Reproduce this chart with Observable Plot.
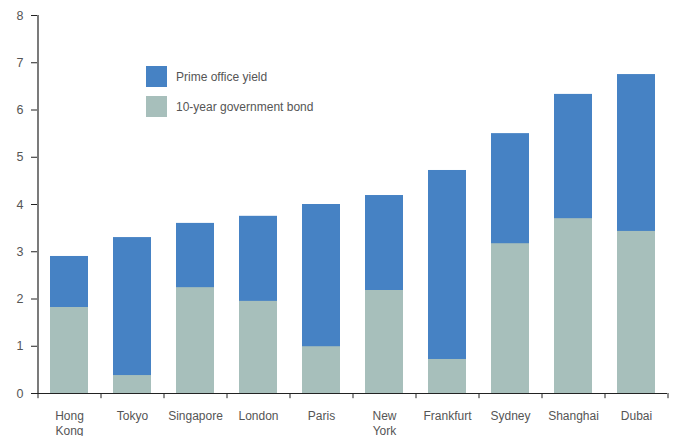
<!DOCTYPE html>
<html>
<head>
<meta charset="utf-8">
<script src="https://cdn.jsdelivr.net/npm/d3@7"></script>
<script src="https://cdn.jsdelivr.net/npm/@observablehq/plot@0.6"></script>
<style>
  body { margin: 0; background: #fff; font-family: "Liberation Sans", Arial, sans-serif; }
  #wrap { position: relative; width: 683px; height: 436px; overflow: hidden; }
  .legend { position: absolute; left: 146px; top: 66px; font-size: 12px; color: #555; }
  .legend div { display: flex; align-items: center; height: 21px; margin-bottom: 9px; }
  .legend span.sw { display: inline-block; width: 21px; height: 21px; margin-right: 9px; }
</style>
</head>
<body>
<div id="wrap"></div>
<script>
const cities = ["Hong Kong", "Tokyo", "Singapore", "London", "Paris", "New York", "Frankfurt", "Sydney", "Shanghai", "Dubai"];
const primeYield = [2.90, 3.30, 3.60, 3.75, 4.00, 4.19, 4.72, 5.50, 6.33, 6.75];
const bondYield = [1.82, 0.38, 2.24, 1.95, 0.99, 2.18, 0.72, 3.17, 3.70, 3.43];
const yTicks = [0, 1, 2, 3, 4, 5, 6, 7, 8];
const tickLabels = {"Hong Kong": "Hong\nKong", "New York": "New\nYork"};
const seriesNames = ["Prime office yield", "10-year government bond"];
const colors = ["#4682c4", "#a7bfbb"];

const rows = cities.map((c, i) => ({city: c, prime: primeYield[i], bond: bondYield[i]}));
const half = 31.5;
const textColor = "#555";

const plot = Plot.plot({
  width: 683,
  height: 436,
  marginLeft: 37,
  marginRight: 16,
  marginTop: 15,
  marginBottom: 43,
  style: {fontFamily: "'Liberation Sans', Arial, sans-serif", fontSize: "12px", color: textColor, background: "#fff"},
  x: {domain: cities, paddingInner: 0.4, paddingOuter: 0.2, label: null, axis: null},
  y: {domain: [0, 8], label: null, axis: null},
  marks: [
    Plot.barY(rows, {x: "city", y: "prime", fill: colors[0]}),
    Plot.barY(rows, {x: "city", y: "bond", fill: colors[1]}),
    Plot.axisY({ticks: yTicks, tickSize: 6, tickPadding: 8, stroke: "#222", fill: textColor, fontSize: 12.5, label: null}),
    Plot.axisX({tickSize: 0, tickPadding: 16, fill: textColor, lineHeight: 1.25, fontSize: 12, tickFormat: d => tickLabels[d] ?? d, label: null}),
    Plot.ruleY([0], {stroke: "#222", strokeWidth: 1.2}),
    Plot.ruleX([cities[0]], {y1: 0, y2: 8, dx: -half, stroke: "#222", strokeWidth: 1.2}),
    Plot.ruleX(cities, {y1: 0, y2: -0.11, dx: -half, stroke: "#222"}),
    Plot.ruleX([cities[cities.length - 1]], {y1: 0, y2: -0.11, dx: half, stroke: "#222"})
  ]
});
const wrap = document.getElementById("wrap");
wrap.appendChild(plot);

const legend = document.createElement("div");
legend.className = "legend";
seriesNames.forEach((name, i) => {
  const row = document.createElement("div");
  const sw = document.createElement("span");
  sw.className = "sw";
  sw.style.background = colors[i];
  row.appendChild(sw);
  row.appendChild(document.createTextNode(name));
  legend.appendChild(row);
});
wrap.appendChild(legend);
</script>
</body>
</html>
